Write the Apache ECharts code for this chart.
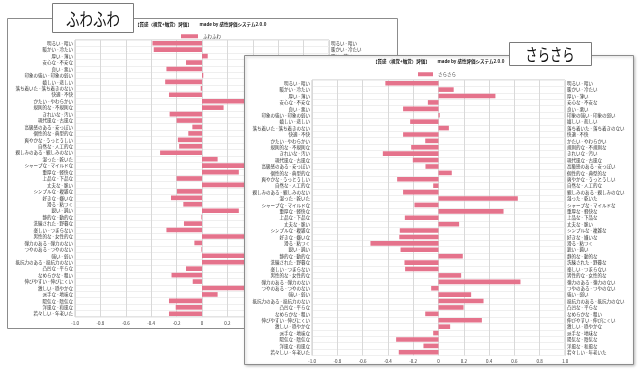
<!DOCTYPE html>
<html><head><meta charset="utf-8">
<script src="https://cdn.jsdelivr.net/npm/echarts@6/dist/echarts.min.js"></script>
<style>html,body{margin:0;padding:0;background:#fff}#c{width:640px;height:371px}</style>
</head><body><div id="c"></div>
<script>
const categories = [
  '明るい - 暗い','暖かい - 冷たい','厚い - 薄い','安心な - 不安な','良い - 悪い',
  '印象の強い - 印象の弱い','嬉しい - 悲しい','落ち着いた - 落ち着きのない','快適 - 不快','かたい - やわらかい',
  '規則的な - 不規則な','きれいな - 汚い','現代風な - 古風な','高級感のある - 安っぽい','個性的な - 典型的な',
  '爽やかな - うっとうしい','自然な - 人工的な','親しみのある - 親しみのない','湿った - 乾いた','シャープな - マイルドな',
  '重厚な - 軽快な','上品な - 下品な','丈夫な - 脆い','シンプルな - 複雑な','好きな - 嫌いな',
  '滑る - 粘つく','鋭い - 鈍い','静的な - 動的な','洗練された - 野暮な','楽しい - つまらない',
  '男性的な - 女性的な','弾力のある - 弾力のない','つやのある - つやのない','強い - 弱い','抵抗力のある - 抵抗力のない',
  '凸凹な - 平らな','なめらかな - 粗い','伸びやすい - 伸びにくい','激しい - 穏やかな','派手な - 地味な',
  '陽気な - 陰気な','洋風な - 和風な','若々しい - 年老いた'
];
const fuwaValues = [
  -0.39,-0.38,0.045,-0.126,-0.28,
  0.01,-0.29,-0.01,-0.26,0.45,
  0.17,-0.255,-0.20,-0.076,-0.108,
  -0.19,-0.18,-0.33,0.123,0.40,
  0.29,-0.20,0.42,-0.197,-0.244,
  -0.147,0.29,-0.005,-0.142,-0.28,
  0.38,-0.06,-0.005,0.44,0.40,
  -0.126,-0.24,-0.073,0.36,0.123,
  -0.26,-0.207,-0.26
];
const saraValues = [
  -0.42,0.12,0.45,-0.084,-0.28,
  0.01,-0.224,0.082,-0.28,-0.105,
  -0.216,-0.44,-0.203,-0.103,0.105,
  -0.327,-0.042,-0.28,0.627,-0.19,
  0.514,-0.266,0.163,-0.306,-0.31,
  -0.538,-0.30,0.192,-0.269,-0.264,
  0.179,0.648,-0.058,0.258,0.356,
  0.198,-0.105,0.343,0.092,-0.042,
  -0.335,-0.119,-0.314
];
const xTickLabels = ['-1.0','-0.8','-0.6','-0.4','-0.2','0','0.2','0.4','0.6','0.8','1.0'];
const seriesNames = ['ふわふわ','さらさら'];
const chartTitle = '【質感（視覚+触覚）評価】　　 made by 感性評価システム2.0.0';

const FONT = "'Noto Sans CJK JP', sans-serif";
const BAR = '#e5738c';
const LBL = 4.5;
function tickFmt(v){ return xTickLabels[Math.round((v + 1) / 0.2)]; }

const panels = [
  {grid:{left:75, top:40, width:254, height:277}, z:1, data:fuwaValues, name:seriesNames[0],
   title:{left:135, top:22}, legend:{left:181, top:34, itemWidth:17}},
  {grid:{left:312, top:80, width:253, height:275.5}, z:6, data:saraValues, name:seriesNames[1],
   title:{left:373, top:59}, legend:{left:418, top:72, itemWidth:15}}
];

const option = {
  animation:false,
  textStyle:{fontFamily:FONT},
  grid:[], xAxis:[], yAxis:[], series:[], title:[], legend:[],
  graphic:{elements:[
    {type:'rect', z:0, shape:{x:7.5, y:18.5, width:390, height:310},
     style:{fill:'#fff', stroke:'#8c8c8c', lineWidth:1}},
    {type:'rect', z:3, shape:{x:52.5, y:3.5, width:81, height:29},
     style:{fill:'#fff', stroke:'#7a7a7a', lineWidth:1}},
    {type:'text', z:3, x:93, y:19, scaleX:0.75,
     style:{text:'ふわふわ', x:0, y:0, fill:'#111', font:'18px ' + FONT, textAlign:'center', textVerticalAlign:'middle'}},
    {type:'rect', z:5, shape:{x:244.5, y:55.5, width:389, height:309},
     style:{fill:'#fff', stroke:'#8c8c8c', lineWidth:1, shadowBlur:3, shadowColor:'rgba(0,0,0,0.25)', shadowOffsetX:1, shadowOffsetY:1}},
    {type:'rect', z:8, shape:{x:509.5, y:42.5, width:82, height:23},
     style:{fill:'#fff', stroke:'#7a7a7a', lineWidth:1}},
    {type:'text', z:8, x:550, y:55, scaleX:0.72,
     style:{text:'さらさら', x:0, y:0, fill:'#111', font:'17px ' + FONT, textAlign:'center', textVerticalAlign:'middle'}}
  ]}
};

panels.forEach((p, i) => {
  option.grid.push(Object.assign({show:true, borderColor:'#c8c8c8', borderWidth:1, backgroundColor:'#fff', z:p.z}, p.grid));
  option.xAxis.push({type:'value', gridIndex:i, min:-1, max:1, interval:0.2, z:p.z,
    axisLine:{show:false}, axisTick:{show:false},
    splitLine:{lineStyle:{color:'#d9d9d9', width:1}},
    axisLabel:{formatter:tickFmt, fontSize:LBL, color:'#333', margin:4, fontFamily:FONT}});
  option.yAxis.push({type:'category', gridIndex:i, data:categories, inverse:true, position:'left', z:p.z,
    axisLine:{show:false}, axisTick:{show:false},
    splitLine:{show:true, lineStyle:{color:'#efefef', width:1}},
    axisLabel:{interval:0, fontSize:LBL, color:'#333', margin:2, fontFamily:FONT}});
  option.yAxis.push({type:'category', gridIndex:i, data:categories, inverse:true, position:'right', z:p.z,
    axisLine:{show:false}, axisTick:{show:false}, splitLine:{show:false},
    axisLabel:{interval:0, fontSize:LBL, color:'#333', margin:2, fontFamily:FONT}});
  option.series.push({type:'bar', name:p.name, xAxisIndex:i, yAxisIndex:i*2, data:p.data, z:p.z+1,
    barCategoryGap:'28%', itemStyle:{color:BAR}});
  option.title.push({text:chartTitle, left:p.title.left, top:p.title.top, padding:0, z:p.z+1,
    textStyle:{fontSize:LBL, fontWeight:'bold', color:'#222', fontFamily:FONT}});
  option.legend.push({data:[p.name], left:p.legend.left, top:p.legend.top, padding:0, z:p.z+1,
    icon:'rect', itemWidth:p.legend.itemWidth, itemHeight:4, itemGap:3,
    textStyle:{fontSize:LBL, color:'#333', fontFamily:FONT}});
});

const chart = echarts.init(document.getElementById('c'), null, {renderer:'canvas'});
chart.setOption(option);
</script></body></html>
